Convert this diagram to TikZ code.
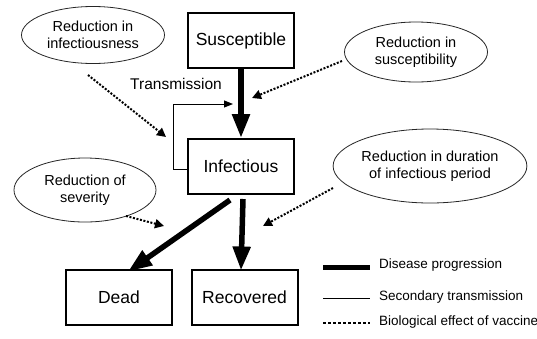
\documentclass[tikz,border=0pt]{standalone}
\usepackage{fontspec}
\setmainfont{Liberation Sans}
\usetikzlibrary{shapes.geometric,arrows.meta}
\begin{document}
\begin{tikzpicture}[x=1pt,y=-1pt,
  box/.style={draw,line width=2pt,minimum width=106pt,minimum height=55pt,inner sep=0pt,font=\fontsize{17.5}{20}\selectfont},
  oval/.style={draw,ellipse,line width=0.8pt,draw=black!85,inner sep=0pt,align=center,font=\fontsize{14.5}{17}\selectfont},
  prog/.style={line width=5.5pt,-{Triangle[length=24pt,width=17pt]}},
  sec/.style={line width=1pt,-{Triangle[length=9pt,width=7pt]}},
  vacc/.style={line width=2pt,dash pattern=on 2pt off 1.6pt,-{Triangle[length=9pt,width=9pt]}},
  lbl/.style={font=\fontsize{13.5}{16}\selectfont,anchor=west,inner sep=0pt}]
\useasboundingbox (0,0) rectangle (537,338);
\fill[white] (0,0) rectangle (537,338);
% boxes
\node[box] (sus) at (241,40.5) {Susceptible};
\node[box] (inf) at (241,166.5) {Infectious};
\node[box] (dead) at (119,297) {Dead};
\node[box] (rec) at (244.5,297) {Recovered};
% ellipses
\node[oval,minimum width=143pt,minimum height=57pt] (e1) at (93,35) {Reduction in\\infectiousness};
\node[oval,minimum width=143pt,minimum height=60pt] (e2) at (416,52) {Reduction in\\susceptibility};
\node[oval,minimum width=184pt,minimum height=74pt] (e3) at (430,166) {Reduction in duration\\of infectious period};
\node[oval,minimum width=142pt,minimum height=64pt] (e4) at (85,190) {Reduction of\\severity};
% progression arrows
\draw[prog] (sus.south) -- (inf.north);
\draw[prog] ([xshift=2pt,yshift=-4pt]inf.south) -- ([yshift=-2pt]inf.south |- rec.north);
\draw[prog] ([xshift=-11pt,yshift=-5pt]inf.south) -- ([xshift=9pt,yshift=-3pt]dead.north);
% transmission
\node[font=\fontsize{15.5}{18}\selectfont,inner sep=0pt] (tr) at (176,84) {Transmission};
\coordinate (fb1) at (inf.west |- 0,169);
\coordinate (fb2) at (173,169);
\coordinate (fb3) at (173,104);
\coordinate (fb4) at (233,104);
\draw[sec] (fb1) -- (fb2) -- (fb3) -- (fb4);
% vaccine effects
\coordinate (v1s) at (88,75);   \coordinate (v1e) at (166,137);
\coordinate (v2s) at (342,61);  \coordinate (v2e) at (252,98);
\coordinate (v3s) at (333,188); \coordinate (v3e) at (263,226);
\coordinate (v4s) at (126,216); \coordinate (v4e) at (164,226);
\draw[vacc] (v1s) -- (v1e);
\draw[vacc] (v2s) -- (v2e);
\draw[vacc] (v3s) -- (v3e);
\draw[vacc] (v4s) -- (v4e);
% legend
\coordinate (l1a) at (323,267); \coordinate (l1b) at (370,267);
\coordinate (l2a) at (323,298); \coordinate (l2b) at (370,298);
\coordinate (l3a) at (323,323); \coordinate (l3b) at (370,323);
\draw[line width=5pt] (l1a) -- (l1b);
\draw[line width=1pt] (l2a) -- (l2b);
\draw[line width=2pt,dash pattern=on 3pt off 2pt] (l3a) -- (l3b);
\node[lbl] (t1) at (379,265) {Disease progression};
\node[lbl] (t2) at (379,297) {Secondary transmission};
\node[lbl] (t3) at (379,322) {Biological effect of vaccine};
\end{tikzpicture}
\end{document}
